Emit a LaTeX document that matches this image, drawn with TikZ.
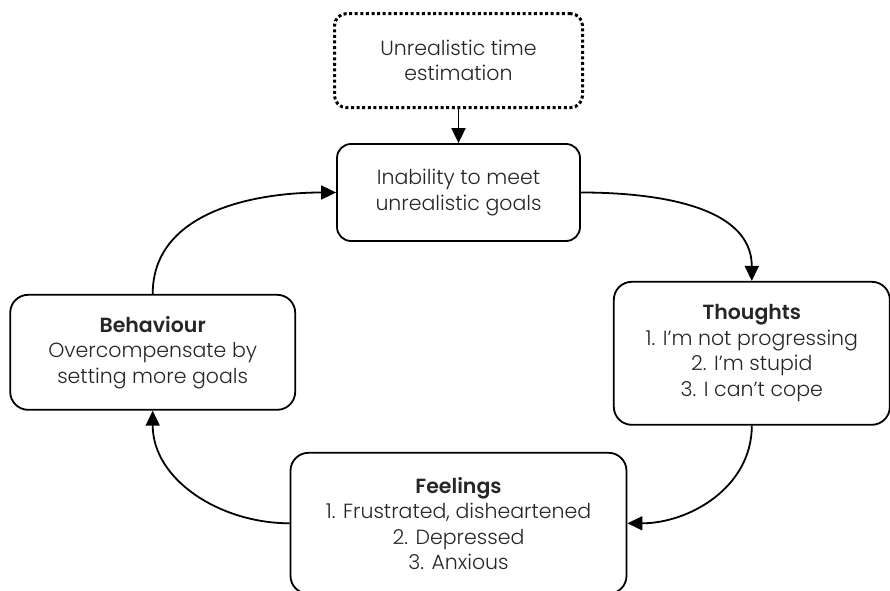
\documentclass[tikz,border=0pt]{standalone}
\usepackage{fontspec}
\setmainfont{Poppins Light}[BoldFont={Poppins SemiBold}]
\usetikzlibrary{positioning, arrows.meta}

\begin{document}
\begin{tikzpicture}[x=1pt, y=1pt, line width=1.8pt,
        >={Triangle[length=15pt, width=14pt]},
        box/.style={draw, rounded corners=18pt, align=center, inner sep=4pt,
            font=\fontsize{20.5}{25.5}\selectfont, text=black!85},
        dotbox/.style={box, rounded corners=12pt, line width=3pt,
            dash pattern=on 3pt off 2.6pt}]
        \useasboundingbox (0,0) rectangle (890,590);

        %Kreislauf
        \node[box, rounded corners=14pt, minimum width=243pt, minimum height=97pt](inab) at (458.5,397.5){Inability to meet\\unrealistic goals};
        \node[dotbox, minimum width=248pt, minimum height=94pt, above = 34pt of inab](est){Unrealistic time\\estimation};
        \node[box, minimum width=276pt, minimum height=143pt, below right = 39pt and 32pt of inab](thou){\textbf{Thoughts}\\1. I’m not progressing\\2. I’m stupid\\3. I can’t cope};
        \node[box, minimum width=336pt, minimum height=141pt, below = 210pt of inab](feel){\textbf{Feelings}\\1. Frustrated, disheartened\\2. Depressed\\3. Anxious};
        \node[box, minimum width=285pt, minimum height=115pt, below left = 52pt and 40pt of inab](beh){\textbf{Behaviour}\\Overcompensate by\\setting more goals};

        \draw(est.south) edge[-{Triangle[length=15pt, width=14pt]}] (inab.north);
        \draw(inab.east) edge[->, out=0, in=90] (thou.north);
        \draw(thou.south) edge[->, out=-90, in=0] (feel.east);
        \draw(feel.west) edge[->, out=180, in=-90] (beh.south);
        \draw(beh.north) edge[->, out=90, in=180] (inab.west);

    \end{tikzpicture}
\end{document}
